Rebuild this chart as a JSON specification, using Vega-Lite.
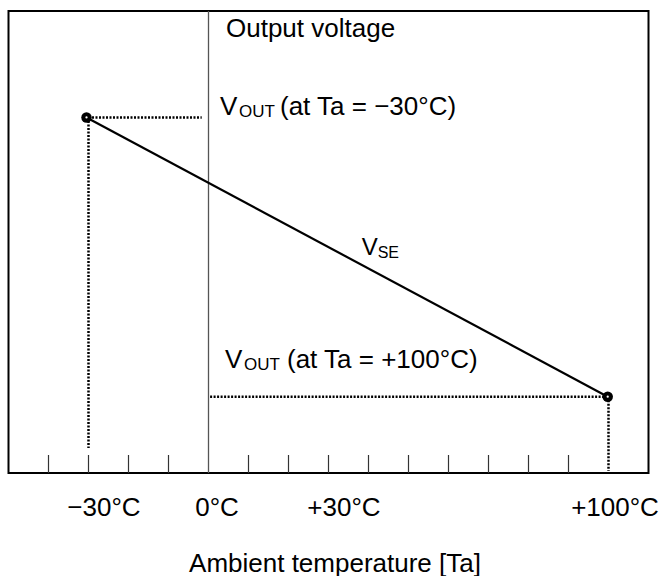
{
  "$schema": "https://vega.github.io/schema/vega-lite/v6.json",
  "width": 640,
  "height": 462,
  "autosize": "none",
  "padding": {"left": 8.5, "top": 11, "right": 13.5, "bottom": 103},
  "background": "white",
  "config": {
    "font": "Liberation Sans",
    "view": {"stroke": "#000000", "strokeWidth": 2},
    "text": {"color": "#000000", "font": "Liberation Sans"}
  },
  "layer": [
    {
      "data": {"values": [{"t": -40}, {"t": -30}, {"t": -20}, {"t": -10}, {"t": 10}, {"t": 20}, {"t": 30}, {"t": 40}, {"t": 50}, {"t": 60}, {"t": 70}, {"t": 80}, {"t": 90}]},
      "mark": {"type": "rule", "color": "#333333", "strokeWidth": 1.2},
      "encoding": {
        "x": {
          "field": "t",
          "type": "quantitative",
          "scale": {"domain": [-50, 110], "nice": false, "zero": false},
          "axis": {
            "values": [-30, 0, 30, 100],
            "domain": false,
            "ticks": false,
            "grid": false,
            "labelExpr": "datum.value == -30 ? '−30°C' : datum.value == 0 ? '0°C' : '+' + datum.value + '°C'",
            "labelFontSize": 26,
            "labelColor": "#000000",
            "labelBaseline": "alphabetic",
            "labelPadding": 42,
            "labelOffset": {"condition": [{"test": "datum.value === 0", "value": 8}, {"test": "datum.value === 100", "value": 6}], "value": 15},
            "title": "Ambient temperature [Ta]",
            "titleFontSize": 26,
            "titleFontWeight": "normal",
            "titleColor": "#000000",
            "titleBaseline": "alphabetic",
            "titleAlign": "center",
            "titleAnchor": "start",
            "titleX": 326,
            "titleY": 98
          }
        },
        "y": {"datum": 0, "type": "quantitative", "scale": {"domain": [0, 100], "nice": false, "zero": false}, "axis": null},
        "y2": {"datum": 3.9}
      }
    },
    {
      "data": {"values": [{"t": 0}]},
      "mark": {"type": "rule", "color": "#555555", "strokeWidth": 1.3},
      "encoding": {
        "x": {"field": "t", "type": "quantitative"},
        "y": {"datum": 0, "type": "quantitative", "axis": null},
        "y2": {"datum": 100}
      }
    },
    {
      "data": {"values": [
        {"t": -30, "t2": -1.7, "v": 76.95, "v2": 76.95},
        {"t": -30, "t2": -30, "v": 76.95, "v2": 5.4},
        {"t": 0.4, "t2": 100, "v": 16.52, "v2": 16.52},
        {"t": 100, "t2": 100, "v": 16.52, "v2": 0.43}
      ]},
      "mark": {"type": "rule", "color": "#000000", "strokeWidth": 2.5, "strokeDash": [2, 1.5]},
      "encoding": {
        "x": {"field": "t", "type": "quantitative"},
        "x2": {"field": "t2"},
        "y": {"field": "v", "type": "quantitative", "axis": null},
        "y2": {"field": "v2"}
      }
    },
    {
      "data": {"values": [{"t": -30.5, "v": 76.95}, {"t": 99.8, "v": 16.52}]},
      "encoding": {
        "x": {"field": "t", "type": "quantitative"},
        "y": {"field": "v", "type": "quantitative", "axis": null}
      },
      "layer": [
        {"mark": {"type": "line", "color": "#000000", "strokeWidth": 2.2}},
        {"mark": {"type": "point", "filled": true, "color": "#000000", "opacity": 1, "size": 110, "shape": "circle"}},
        {"mark": {"type": "point", "filled": true, "color": "#ffffff", "opacity": 1, "size": 5, "shape": "circle"}}
      ]
    },
    {
      "data": {"values": [
        {"t": 4.375, "v": 94.37, "text": "Output voltage"},
        {"t": 2.875, "v": 77.49, "text": "V"},
        {"t": 4.125, "v": 22.73, "text": "V"}
      ]},
      "mark": {"type": "text", "align": "left", "baseline": "alphabetic", "fontSize": 26},
      "encoding": {
        "x": {"field": "t", "type": "quantitative"},
        "y": {"field": "v", "type": "quantitative", "axis": null},
        "text": {"field": "text"}
      }
    },
    {
      "data": {"values": [
        {"t": 2.875, "v": 77.49, "text": "OUT"},
        {"t": 4.125, "v": 22.73, "text": "OUT"}
      ]},
      "mark": {"type": "text", "align": "left", "baseline": "alphabetic", "fontSize": 17, "dx": 19, "dy": 2},
      "encoding": {
        "x": {"field": "t", "type": "quantitative"},
        "y": {"field": "v", "type": "quantitative", "axis": null},
        "text": {"field": "text"}
      }
    },
    {
      "data": {"values": [{"t": 2.875, "v": 77.49, "text": "(at Ta = −30°C)"}]},
      "mark": {"type": "text", "align": "left", "baseline": "alphabetic", "fontSize": 26, "dx": 60},
      "encoding": {
        "x": {"field": "t", "type": "quantitative"},
        "y": {"field": "v", "type": "quantitative", "axis": null},
        "text": {"field": "text"}
      }
    },
    {
      "data": {"values": [{"t": 4.125, "v": 22.73, "text": "(at Ta = +100°C)"}]},
      "mark": {"type": "text", "align": "left", "baseline": "alphabetic", "fontSize": 26, "dx": 62},
      "encoding": {
        "x": {"field": "t", "type": "quantitative"},
        "y": {"field": "v", "type": "quantitative", "axis": null},
        "text": {"field": "text"}
      }
    },
    {
      "data": {"values": [{"t": 38.3, "v": 47.19, "text": "V"}]},
      "mark": {"type": "text", "align": "left", "baseline": "alphabetic", "fontSize": 24},
      "encoding": {
        "x": {"field": "t", "type": "quantitative"},
        "y": {"field": "v", "type": "quantitative", "axis": null},
        "text": {"field": "text"}
      }
    },
    {
      "data": {"values": [{"t": 38.3, "v": 47.19, "text": "SE"}]},
      "mark": {"type": "text", "align": "left", "baseline": "alphabetic", "fontSize": 16, "dx": 16, "dy": 3},
      "encoding": {
        "x": {"field": "t", "type": "quantitative"},
        "y": {"field": "v", "type": "quantitative", "axis": null},
        "text": {"field": "text"}
      }
    }
  ]
}
